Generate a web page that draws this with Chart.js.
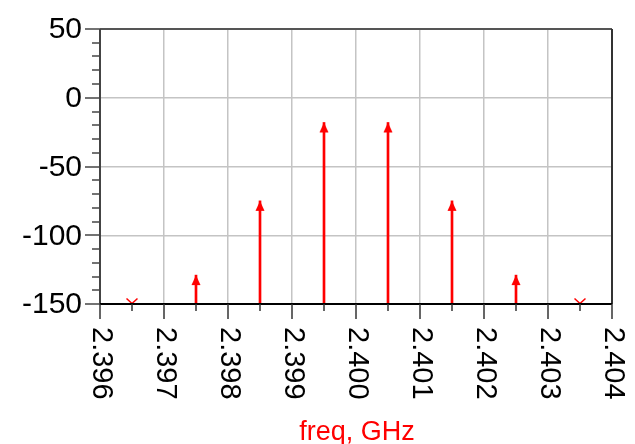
<!DOCTYPE html>
<html>
<head>
<meta charset="utf-8">
<script src="https://cdn.jsdelivr.net/npm/chart.js@4.4.1/dist/chart.umd.min.js"></script>
<style>
html,body{margin:0;padding:0;background:#fff;}
#wrap{position:relative;width:635px;height:444px;}
</style>
</head>
<body>
<div id="wrap"><canvas id="c" width="635" height="444"></canvas></div>
<script>
// ---- data ----
const freqs = [2.3965, 2.3975, 2.3985, 2.3995, 2.4005, 2.4015, 2.4025, 2.4035];
const levels = [-150, -129, -75, -18, -18, -75, -129, -150];
const belowFloor = [true, false, false, false, false, false, false, true];
const xTicks = [2.396, 2.397, 2.398, 2.399, 2.400, 2.401, 2.402, 2.403, 2.404];
const xTickLabels = ['2.396','2.397','2.398','2.399','2.400','2.401','2.402','2.403','2.404'];
const yTicks = [50, 0, -50, -100, -150];
const yTickLabels = ['50','0','-50','-100','-150'];
const xTitle = 'freq, GHz';
const yMin = -150, yMax = 50, xMin = 2.396, xMax = 2.404;

// marker images
function arrowImg(){
  const c=document.createElement('canvas'); c.width=10; c.height=22;
  const g=c.getContext('2d'); g.fillStyle='#ff0000';
  g.beginPath(); g.moveTo(5,11); g.lineTo(0.5,21); g.lineTo(9.5,21); g.closePath(); g.fill();
  return c;
}
function vImg(){
  const c=document.createElement('canvas'); c.width=14; c.height=14;
  const g=c.getContext('2d'); g.strokeStyle='#ff0000'; g.lineWidth=1.5;
  g.beginPath(); g.moveTo(1.5,1.5); g.lineTo(7,6.5); g.lineTo(12.5,1.5); g.stroke();
  return c;
}
const ARROW=arrowImg(), VMARK=vImg();

const stemData = freqs.map((f,i)=>({x:f, y:[yMin, levels[i]]})).filter((d,i)=>!belowFloor[i]);
const tipData = freqs.map((f,i)=>({x:f, y:levels[i]}));
const tipStyles = belowFloor.map(b=> b?VMARK:ARROW);

const decor = {
  id:'decor',
  afterDraw(chart){
    const ctx=chart.ctx, a=chart.chartArea, xs=chart.scales.x, ys=chart.scales.y;
    ctx.save();
    // borders
    ctx.lineWidth=2;
    ctx.strokeStyle='#555';
    ctx.beginPath(); ctx.moveTo(a.left,a.top); ctx.lineTo(a.right,a.top); ctx.stroke();
    ctx.strokeStyle='#333';
    ctx.beginPath(); ctx.moveTo(a.right,a.top); ctx.lineTo(a.right,a.bottom); ctx.stroke();
    ctx.strokeStyle='#444';
    ctx.beginPath(); ctx.moveTo(a.left,a.top); ctx.lineTo(a.left,a.bottom); ctx.stroke();
    ctx.strokeStyle='#000';
    ctx.beginPath(); ctx.moveTo(a.left,a.bottom); ctx.lineTo(a.right,a.bottom); ctx.stroke();
    // y ticks
    ctx.strokeStyle='#444'; ctx.lineWidth=1.5;
    for(let v=yMin; v<=yMax; v+=10){
      const y=Math.round(ys.getPixelForValue(v));
      const len=(v%50===0)?15:8;
      ctx.beginPath(); ctx.moveTo(a.left-len,y); ctx.lineTo(a.left,y); ctx.stroke();
    }
    // x ticks
    ctx.strokeStyle='#333';
    for(let k=0;k<=16;k++){
      const v=xMin+k*0.0005;
      const x=Math.round(xs.getPixelForValue(v));
      const len=(k%2===0)?15:7;
      ctx.beginPath(); ctx.moveTo(x,a.bottom); ctx.lineTo(x,a.bottom+len); ctx.stroke();
    }
    // y labels
    ctx.fillStyle='#000';
    ctx.font='30px "Liberation Sans", Arial, sans-serif';
    ctx.textAlign='right'; ctx.textBaseline='middle';
    yTicks.forEach((v,i)=>{ ctx.fillText(yTickLabels[i], a.left-18, ys.getPixelForValue(v)+1); });
    // x labels rotated clockwise
    ctx.font='29px "Liberation Sans", Arial, sans-serif';
    ctx.textAlign='left'; ctx.textBaseline='middle';
    xTicks.forEach((v,i)=>{
      const x=xs.getPixelForValue(v);
      ctx.save(); ctx.translate(x+1, a.bottom+23); ctx.rotate(Math.PI/2);
      ctx.fillText(xTickLabels[i],0,0); ctx.restore();
    });
    // axis title
    ctx.fillStyle='#ff0000';
    ctx.font='27px "Liberation Sans", Arial, sans-serif';
    ctx.textAlign='center'; ctx.textBaseline='alphabetic';
    ctx.fillText(xTitle, 357, 440);
    ctx.restore();
  }
};

new Chart(document.getElementById('c'), {
  data:{
    datasets:[
      {type:'bar', data:stemData, backgroundColor:'#ff0000', borderWidth:0, barThickness:2, order:2},
      {type:'scatter', data:tipData, pointStyle:tipStyles, pointRadius:6, order:1}
    ]
  },
  options:{
    responsive:false, animation:false,
    layout:{padding:{left:100, top:29, right:23, bottom:140}, autoPadding:false},
    plugins:{legend:{display:false}, tooltip:{enabled:false}},
    scales:{
      x:{type:'linear', min:xMin, max:xMax, offset:false,
         ticks:{display:false, stepSize:0.001},
         grid:{color:'#c4c4c4', lineWidth:1.5, drawTicks:false, offset:false},
         border:{display:false},
         afterFit(s){s.height=0;}},
      y:{type:'linear', min:yMin, max:yMax,
         ticks:{display:false, stepSize:50},
         grid:{color:'#c4c4c4', lineWidth:1.5, drawTicks:false},
         border:{display:false},
         afterFit(s){s.width=0;}}
    }
  },
  plugins:[decor]
});
</script>
</body>
</html>
